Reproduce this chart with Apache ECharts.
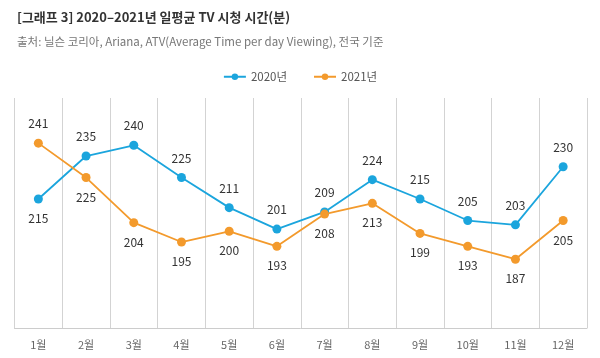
<!DOCTYPE html>
<html><head><meta charset="utf-8">
<script src="https://cdn.jsdelivr.net/npm/echarts@6/dist/echarts.min.js"></script>
<style>html,body{margin:0;padding:0;background:#fff}#c{width:600px;height:358px}</style>
</head><body><div id="c"></div>
<script>
const categories = ['1월','2월','3월','4월','5월','6월','7월','8월','9월','10월','11월','12월'];
const values2020 = [215,235,240,225,211,201,209,224,215,205,203,230];
const values2021 = [241,225,204,195,200,193,208,213,199,193,187,205];
const pos2020 = ['bottom','top','top','top','top','top','top','top','top','top','top','top'];
const pos2021 = ['top','bottom','bottom','bottom','bottom','bottom','bottom','bottom','bottom','bottom','bottom','bottom'];
const seriesNames = ['2020년','2021년'];
const font = '"Noto Sans CJK KR", sans-serif';
function mk(vals, pos){ return vals.map((v,i)=>({value:v,label:{position:pos[i]}})); }
const chart = echarts.init(document.getElementById('c'));
chart.setOption({
  animation:false,
  textStyle:{fontFamily:font},
  title:[
    {text:'[그래프 3] 2020–2021년 일평균 TV 시청 시간(분)',left:12,top:6,textStyle:{fontSize:13,fontWeight:'bold',color:'#333',fontFamily:font}},
    {text:'출처: 닐슨 코리아, Ariana, ATV(Average Time per day Viewing), 전국 기준',left:12,top:31,textStyle:{fontSize:11.5,fontWeight:'normal',color:'#777',fontFamily:font}}
  ],
  legend:{top:66,left:'center',itemGap:26,itemWidth:22,itemHeight:8,textStyle:{fontSize:11.5,color:'#555',fontFamily:font},data:seriesNames},
  grid:{left:14.5,right:13,top:98,bottom:30},
  xAxis:{type:'category',data:categories,boundaryGap:true,
    axisLine:{lineStyle:{color:'#ccc'}},axisTick:{show:false},
    splitLine:{show:true,lineStyle:{color:'#d3d3d3',width:1}},
    axisLabel:{color:'#666',fontSize:11,margin:11,fontFamily:font}},
  yAxis:{type:'value',min:155,max:262,show:false,splitLine:{show:false}},
  series:[
    {name:seriesNames[0],type:'line',data:mk(values2020,pos2020),symbol:'circle',symbolSize:9,
     itemStyle:{color:'#1ba5dd'},lineStyle:{width:1.8,color:'#1ba5dd'},
     label:{show:true,color:'#333',fontSize:12,distance:9,fontFamily:font}},
    {name:seriesNames[1],type:'line',data:mk(values2021,pos2021),symbol:'circle',symbolSize:9,
     itemStyle:{color:'#f39a2c'},lineStyle:{width:1.8,color:'#f39a2c'},
     label:{show:true,color:'#333',fontSize:12,distance:9,fontFamily:font}}
  ]
});
</script></body></html>
